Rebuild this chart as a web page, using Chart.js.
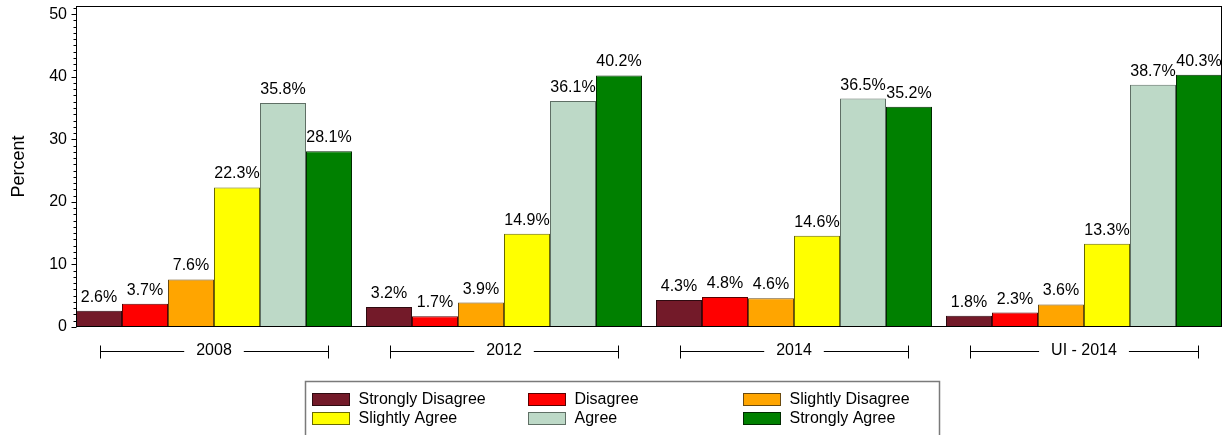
<!DOCTYPE html>
<html><head><meta charset="utf-8">
<script src="https://cdn.jsdelivr.net/npm/chart.js@4/dist/chart.umd.min.js"></script>
<style>html,body{margin:0;padding:0;background:#fff;overflow:hidden;width:1228px;height:435px}canvas{display:block}</style>
</head><body><canvas id="c" width="1240" height="435"></canvas>
<script>
const categories = ['2008', '2012', '2014', 'UI - 2014'];
const seriesNames = ['Strongly Disagree', 'Disagree', 'Slightly Disagree', 'Slightly Agree', 'Agree', 'Strongly Agree'];
const stronglyDisagree = [2.6, 3.2, 4.3, 1.8];
const disagree = [3.7, 1.7, 4.8, 2.3];
const slightlyDisagree = [7.6, 3.9, 4.6, 3.6];
const slightlyAgree = [22.3, 14.9, 14.6, 13.3];
const agree = [35.8, 36.1, 36.5, 38.7];
const stronglyAgree = [28.1, 40.2, 35.2, 40.3];
const yTicks = [0, 10, 20, 30, 40, 50];
const yAxisTitle = 'Percent';

const seriesValues = [stronglyDisagree, disagree, slightlyDisagree, slightlyAgree, agree, stronglyAgree];
const fills = ['#731A29', '#FF0000', '#FFA500', '#FFFF00', '#BDD9C7', '#008000'];
const borders = ['#2e0a10', '#5a0000', '#6a4a10', '#6a6a00', '#5f6f65', '#002a00'];
const FONT = '"Liberation Sans", Arial, sans-serif';

const datasets = seriesNames.map((name, i) => ({
  label: name,
  data: seriesValues[i],
  backgroundColor: fills[i],
  borderColor: borders[i],
  borderWidth: 1,
  barPercentage: 1,
  categoryPercentage: 276 / 290
}));

function frameBounds(chart) {
  const m0 = chart.getDatasetMeta(0).data[0];
  const mL = chart.getDatasetMeta(datasets.length - 1).data[categories.length - 1];
  return {
    left: m0.x - m0.width / 2,
    right: mL.x + mL.width / 2,
    top: chart.chartArea.top,
    bottom: chart.scales.y.getPixelForValue(0)
  };
}

const drawPlugin = {
  id: 'drawPlugin',
  afterDatasetsDraw(chart) {
    const ctx = chart.ctx;
    const ys = chart.scales.y, xs = chart.scales.x;
    const fb = frameBounds(chart);
    ctx.save();
    // value labels
    ctx.font = '16px ' + FONT;
    ctx.fillStyle = '#000';
    ctx.textAlign = 'center';
    ctx.textBaseline = 'alphabetic';
    chart.data.datasets.forEach((ds, di) => {
      chart.getDatasetMeta(di).data.forEach((bar, i) => {
        ctx.fillText(ds.data[i].toFixed(1) + '%', bar.x, bar.y - 9);
      });
    });
    // frame
    ctx.strokeStyle = '#000';
    ctx.lineWidth = 1;
    const L = Math.round(fb.left) + 0.5, R = Math.round(fb.right) - 0.5;
    const T = Math.round(fb.top) + 0.5, B = Math.round(fb.bottom) - 0.5;
    ctx.strokeRect(L, T, R - L, B - T);
    // y ticks (major + minor)
    ctx.beginPath();
    for (let v = 0; v <= ys.max; v += 1) {
      const py = Math.round(ys.getPixelForValue(v)) + 0.5;
      const len = (v % 10 === 0) ? 5 : 3;
      ctx.moveTo(L - len, py);
      ctx.lineTo(L, py);
    }
    ctx.stroke();
    // category brackets
    const catW = xs.getPixelForValue(1) - xs.getPixelForValue(0);
    const half = catW * 0.394;
    const by = Math.round(xs.top + 24) + 0.5;
    ctx.font = '16px ' + FONT;
    ctx.beginPath();
    categories.forEach((c, i) => {
      const cx = xs.getPixelForValue(i);
      const tw = ctx.measureText(c).width / 2 + 12;
      const l = Math.round(cx - half) + 0.5, r = Math.round(cx + half) + 0.5;
      ctx.moveTo(l, by - 6); ctx.lineTo(l, by + 7);
      ctx.moveTo(r, by - 6); ctx.lineTo(r, by + 7);
      ctx.moveTo(l, by); ctx.lineTo(cx - tw, by);
      ctx.moveTo(cx + tw, by); ctx.lineTo(r, by);
    });
    ctx.stroke();
    // legend
    const lx = 305.5, lyTop = 381.5;
    ctx.strokeStyle = '#7a7a7a';
    ctx.lineWidth = 1.5;
    ctx.strokeRect(lx, lyTop, 634, 80);
    const colX = [312.5, 528.5, 743.5];
    const rowY = [393.5, 412.5];
    ctx.textAlign = 'left';
    ctx.textBaseline = 'middle';
    ctx.lineWidth = 1;
    chart.data.datasets.forEach((ds, i) => {
      const sx = colX[i % 3], sy = rowY[Math.floor(i / 3)];
      ctx.fillStyle = ds.backgroundColor;
      ctx.fillRect(sx, sy, 37, 12);
      ctx.strokeStyle = ds.borderColor;
      ctx.strokeRect(sx, sy, 37, 12);
      ctx.fillStyle = '#000';
      ctx.fillText(ds.label, sx + 46, sy + 6.5);
    });
    ctx.restore();
  }
};

new Chart(document.getElementById('c'), {
  type: 'bar',
  data: { labels: categories, datasets },
  options: {
    responsive: false,
    animation: false,
    devicePixelRatio: 1,
    layout: { padding: { top: 6, right: 11, left: 0, bottom: 0 } },
    plugins: { legend: { display: false }, tooltip: { enabled: false } },
    scales: {
      x: {
        type: 'category',
        offset: true,
        grid: { display: false, drawTicks: false },
        border: { display: false },
        ticks: { color: '#000', font: { family: FONT, size: 16 }, padding: 14, maxRotation: 0, autoSkip: false },
        afterFit(s) { s.height = 108; s.paddingLeft = 0; s.paddingRight = 0; }
      },
      y: {
        min: 0,
        max: 51.3,
        grid: { display: false, drawTicks: false },
        border: { display: false },
        afterBuildTicks(s) { s.ticks = yTicks.map(v => ({ value: v })); },
        ticks: { color: '#000', font: { family: FONT, size: 16 }, padding: 2 },
        title: { display: true, text: yAxisTitle, color: '#000', font: { family: FONT, size: 18 }, padding: { top: 8, bottom: 0 } },
        afterFit(s) { s.width = 69; s.paddingTop = 0; s.paddingBottom = 0; }
      }
    }
  },
  plugins: [drawPlugin]
});
</script>
</body></html>
